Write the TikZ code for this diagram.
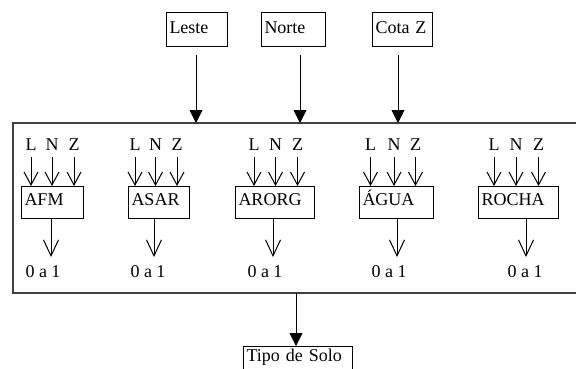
\documentclass[tikz,border=0pt]{standalone}
\usepackage{fontspec}
\setmainfont{Liberation Serif}
\usetikzlibrary{arrows.meta}

\begin{document}
\begin{tikzpicture}[x=1pt,y=-1pt,
  every node/.style={outer sep=0pt, font=\fontsize{18}{20}\selectfont},
  box/.style={draw, line width=1pt, inner xsep=3.5pt, inner ysep=0pt,
    align=left, text height=12pt, text depth=5pt},
  frame/.style={draw=black!75, line width=1.6pt, inner sep=0pt},
  lab/.style={inner sep=0pt, anchor=base},
  bigarrow/.style={line width=1pt, -{Triangle[length=13pt,width=13pt]}},
  inarrow/.style={line width=1pt, -{Straight Barb[length=13pt,width=14pt]}, shorten <=7pt},
  outarrow/.style={line width=1pt, -{Straight Barb[length=16pt,width=15pt]}, shorten >=8pt}]
\useasboundingbox (0,0) rectangle (576,369);

% input boxes
\node[box, minimum height=34pt, text width=54pt] (leste) at (196.5,30) {Leste};
\node[box, minimum height=34pt, text width=57pt] (norte) at (293,30) {Norte};
\node[box, minimum height=34pt, text width=53pt] (cota)  at (402,30) {Cota Z};

% surrounding frame
\node[frame, minimum width=565pt, minimum height=170pt] (frame) at (295.5,208) {};

% input arrows into the frame
\draw[bigarrow, shorten <=8pt] ([xshift=-0.5pt]leste.south) -- ([xshift=-0.5pt]leste.south |- frame.north);
\draw[bigarrow, shorten <=8pt] ([xshift=7pt]norte.south) -- ([xshift=7pt]norte.south |- frame.north);
\draw[bigarrow, shorten <=8pt] ([xshift=-4pt]cota.south) -- ([xshift=-4pt]cota.south |- frame.north);

% class boxes
\node[box, minimum height=32pt, text width=55pt] (afm)   at (52,202)    {AFM};
\node[box, minimum height=32pt, text width=54pt] (asar)  at (158.5,202) {ASAR};
\node[box, minimum height=32pt, text width=72pt] (arorg) at (274.5,202) {ARORG};
\node[box, minimum height=32pt, text width=67pt] (agua)  at (396,202)   {ÁGUA};
\node[box, minimum height=32pt, text width=73pt] (rocha) at (518,202)   {ROCHA};

% L N Z labels and their arrows
\node[lab] (afmL) at (31,150) {L};
\node[lab] (afmN) at (52,150) {N};
\node[lab] (afmZ) at (74,150) {Z};
\node[lab] (asarL) at (135,150) {L};
\node[lab] (asarN) at (155.5,150) {N};
\node[lab] (asarZ) at (177,150) {Z};
\node[lab] (arorgL) at (254,150) {L};
\node[lab] (arorgN) at (275.5,150) {N};
\node[lab] (arorgZ) at (297.5,150) {Z};
\node[lab] (aguaL) at (370.5,150) {L};
\node[lab] (aguaN) at (394,150) {N};
\node[lab] (aguaZ) at (415.5,150) {Z};
\node[lab] (rochaL) at (494,150) {L};
\node[lab] (rochaN) at (516,150) {N};
\node[lab] (rochaZ) at (538.5,150) {Z};

\foreach \b in {afm,asar,arorg,agua,rocha}{
  \foreach \v in {L,N,Z}{
    \draw[inarrow] (\b\v.south) -- (\b\v.south |- \b.north);
  }
}

% outputs
\node[lab] (afmO)   at (43,277)  {0 a 1};
\node[lab] (asarO)  at (148,277) {0 a 1};
\node[lab] (arorgO) at (265,277) {0 a 1};
\node[lab] (aguaO)  at (389,277) {0 a 1};
\node[lab] (rochaO) at (525,277) {0 a 1};

\draw[outarrow] ([xshift=-1pt]afm.south) -- ([xshift=-1pt]afm.south |- afmO.north);
\draw[outarrow] ([xshift=-4.5pt]asar.south) -- ([xshift=-4.5pt]asar.south |- asarO.north);
\draw[outarrow] ([xshift=-1.5pt]arorg.south) -- ([xshift=-1.5pt]arorg.south |- arorgO.north);
\draw[outarrow] ([xshift=1pt]agua.south) -- ([xshift=1pt]agua.south |- aguaO.north);
\draw[outarrow] ([xshift=8pt]rocha.south) -- ([xshift=8pt]rocha.south |- rochaO.north);

% result box
\node[box, minimum height=30pt, text width=102pt, text depth=12pt] (tipo) at (297.5,361) {Tipo de Solo};
\draw[bigarrow] ([xshift=-1.5pt]tipo.north |- frame.south) -- ([xshift=-1.5pt]tipo.north);
\end{tikzpicture}
\end{document}
